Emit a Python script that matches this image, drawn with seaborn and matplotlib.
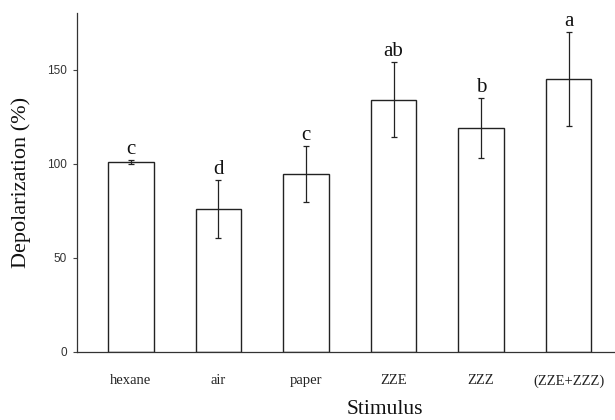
import pandas as pd
import numpy as np
import matplotlib
matplotlib.use('Agg')
import matplotlib.pyplot as plt
import seaborn as sns

stimuli = ['hexane', 'air', 'paper', 'ZZE', 'ZZZ', '(ZZE+ZZZ)']
depol = [101, 76, 94.5, 134, 119, 145]
err = [1, 15.5, 15, 20, 16, 25]
letters = ['c', 'd', 'c', 'ab', 'b', 'a']

df = pd.DataFrame({'stimulus': stimuli, 'depol': depol})

sns.set_style('white')
SERIF = ['Liberation Serif', 'DejaVu Serif']
SANS = ['Liberation Sans', 'DejaVu Sans']

fig = plt.figure(figsize=(6.15, 4.2), dpi=100)
ax = fig.add_axes([0.125, 0.162, 0.875, 0.807])

sns.barplot(data=df, x='stimulus', y='depol', color='white', edgecolor='#222222',
            linewidth=1.0, width=0.52, errorbar=None, ax=ax)
ax.errorbar(range(len(stimuli)), depol, yerr=err, fmt='none', ecolor='#222222',
            elinewidth=0.9, capsize=2.5, capthick=0.9)

# significance letters sit just above the error bars
for i, (v, e, lab) in enumerate(zip(depol, err, letters)):
    ax.text(i, v + e + 0.5, lab, ha='center', va='bottom', fontsize=15,
            family=SERIF, color='#111111')

ax.set_xlim(-0.617, 5.53)
ax.set_ylim(0, 180)
ax.set_yticks([0, 50, 100, 150])
ax.set_yticklabels(['0', '50', '100', '150'], family=SANS, fontsize=8.5, color='#333333')
ax.set_xticks(range(len(stimuli)))
ax.set_xticklabels(stimuli, family=SERIF, fontsize=10.5, color='#222222')
ax.tick_params(axis='y', direction='out', length=3, width=0.8, colors='#444444',
               labelcolor='#333333', left=True, pad=4)
ax.tick_params(axis='x', length=0, pad=16)

for sp in ['top', 'right']:
    ax.spines[sp].set_visible(False)
for sp in ['left', 'bottom']:
    ax.spines[sp].set_color('#333333')
    ax.spines[sp].set_linewidth(0.9)

ax.set_xlabel('')
ax.set_ylabel('Depolarization (%)', family=SERIF, fontsize=16, color='#111111', labelpad=12)
fig.text(385 / 615, 1 - 409 / 420, 'Stimulus', ha='center', va='center',
         family=SERIF, fontsize=15.5, color='#111111')

plt.savefig('out.png', dpi=100, facecolor='white')
plt.close()
